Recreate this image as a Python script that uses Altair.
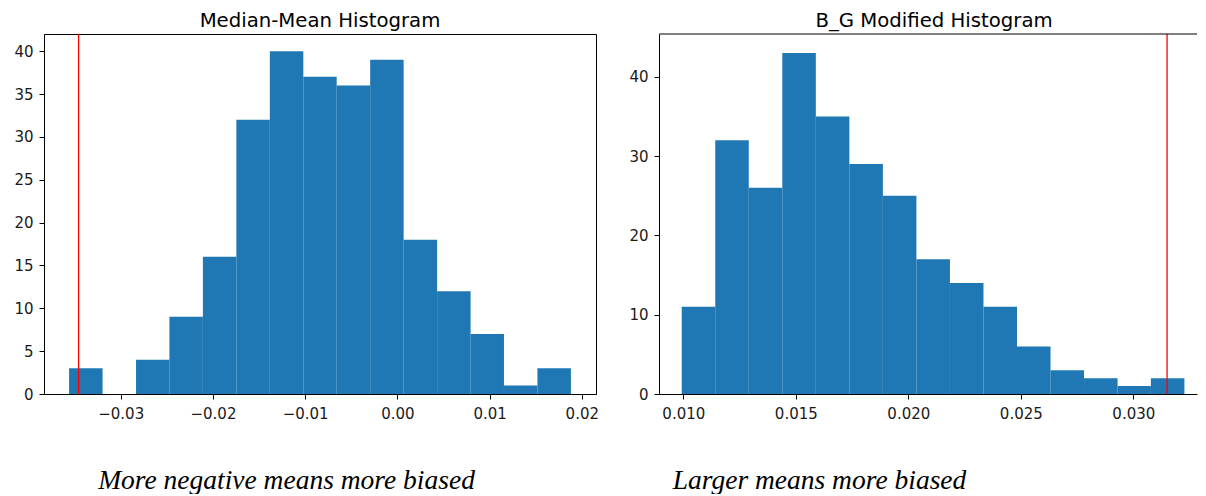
import altair as alt
import pandas as pd

# ---- data ----
left_edges = [-0.0356, -0.03197, -0.02834, -0.02472, -0.02109, -0.01746, -0.01383,
              -0.0102, -0.00658, -0.00295, 0.00068, 0.00431, 0.00794, 0.01156,
              0.01519, 0.01882]
left_counts = [3, 0, 4, 9, 16, 32, 40, 37, 36, 39, 18, 12, 7, 1, 3]
left_marker = [-0.03457]
left_xticks = [-0.03, -0.02, -0.01, 0.0, 0.01, 0.02]
left_yticks = [0, 5, 10, 15, 20, 25, 30, 35, 40]

right_edges = [0.00993, 0.01142, 0.01291, 0.0144, 0.01589, 0.01738, 0.01887,
               0.02036, 0.02185, 0.02334, 0.02483, 0.02632, 0.02781, 0.0293,
               0.03078, 0.03227]
right_counts = [11, 32, 26, 43, 35, 29, 25, 17, 14, 11, 6, 3, 2, 1, 2]
right_marker = [0.0315]
right_xticks = [0.010, 0.015, 0.020, 0.025, 0.030]
right_yticks = [0, 10, 20, 30, 40]

titles = ["Median-Mean Histogram", "B_G Modified Histogram"]
captions = ["More negative means more biased", "Larger means more biased"]

BLUE = "#1f77b4"
LW, LH = 552, 360
RW, RH = 538, 360


def panel(edges, counts, marker, xdom, xticks, xfmt, ydom, yticks, w, h,
          title, caption, capx, capy, tdx, toff, border):
    df = pd.DataFrame({"x0": edges[:-1], "x1": edges[1:], "count": counts,
                       "base": [0] * len(counts)})
    xaxis = alt.Axis(values=xticks, format=xfmt, title=caption,
                     titleX=capx, titleY=capy, titleAlign="center",
                     titleBaseline="alphabetic", titleAnchor="start",
                     titleFont="Liberation Serif", titleFontStyle="italic",
                     titleFontWeight="normal", titleFontSize=27.5,
                     titleColor="#000000", labelPadding=7)
    yaxis = alt.Axis(values=yticks, title=None, labelPadding=6)
    bars = alt.Chart(df).mark_rect(color=BLUE).encode(
        x=alt.X("x0:Q", scale=alt.Scale(domain=xdom, nice=False, zero=False),
                axis=xaxis),
        x2="x1:Q",
        y=alt.Y("count:Q", scale=alt.Scale(domain=ydom, nice=False, zero=True),
                axis=yaxis),
        y2="base:Q",
    )
    rule = alt.Chart(pd.DataFrame({"m": marker})).mark_rule(
        color="#ff0000", strokeWidth=1.3).encode(x="m:Q")
    layers = [bars, rule]
    if not border:
        top = alt.Chart(pd.DataFrame({"a": [0]})).mark_rule(
            color="#000000", strokeWidth=1).encode(
            x=alt.value(0), x2=alt.value(w), y=alt.value(0))
        layers.append(top)
    ch = alt.layer(*layers).properties(
        width=w, height=h,
        title=alt.TitleParams(title, font="DejaVu Sans", fontSize=19.7,
                              fontWeight="normal", color="#000000",
                              anchor="middle", baseline="alphabetic",
                              offset=toff, dx=tdx),
    )
    if not border:
        ch = ch.properties(view=alt.ViewBackground(stroke="transparent"))
    return ch


left = panel(left_edges, left_counts, left_marker, [-0.03832, 0.02154],
             left_xticks, ".2f", [0, 42], left_yticks, LW, LH,
             titles[0], captions[0], 242, 94, 0, -13, True)
right = panel(right_edges, right_counts, right_marker, [0.00892, 0.03283],
              right_xticks, ".3f", [0, 45.4], right_yticks, RW, RH,
              titles[1], captions[1], 160, 94, 6, -13, False)

chart = alt.hconcat(left, right, spacing=29).properties(
    padding={"left": 5, "top": 2, "right": 0, "bottom": 0}
).configure_view(stroke="#000000", strokeWidth=1).configure_axis(
    grid=False, domainColor="#000000", tickColor="#000000", tickSize=5,
    labelFont="DejaVu Sans", labelFontSize=15, labelColor="#1a1a1a",
    domainWidth=1, tickWidth=1,
).configure_title(font="DejaVu Sans")

chart.save("out.html", embed_options={"renderer": "svg", "actions": False})
